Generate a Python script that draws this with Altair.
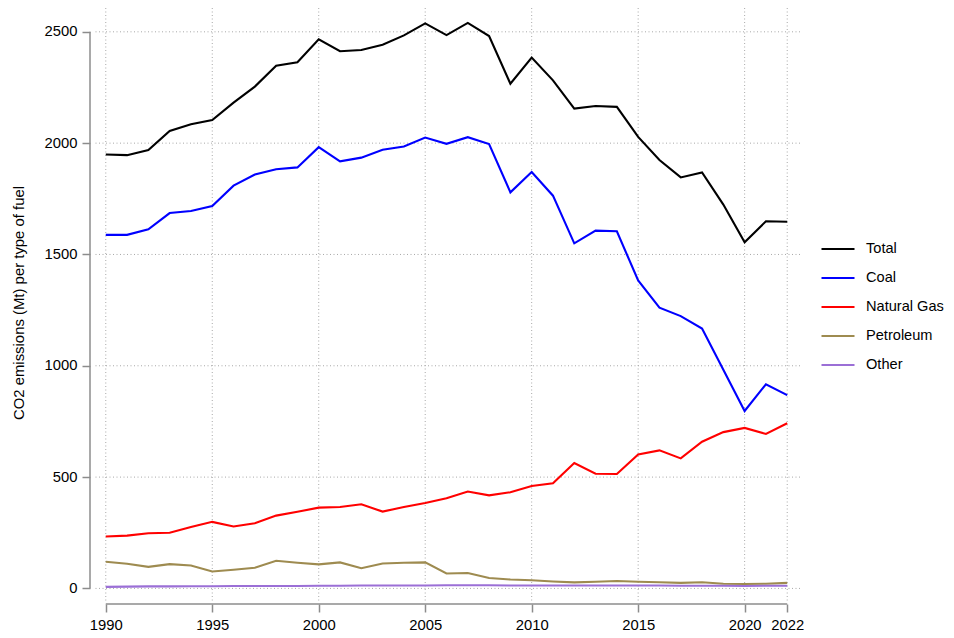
import altair as alt
import pandas as pd

years = list(range(1990, 2023))
total = [1949, 1946, 1969, 2055, 2085, 2104, 2182, 2254, 2348, 2363,
         2466, 2413, 2418, 2442, 2484, 2538, 2485, 2540, 2481, 2267,
         2384, 2282, 2155, 2167, 2163, 2028, 1924, 1846, 1868, 1724,
         1555, 1649, 1647]
coal = [1588, 1588, 1613, 1686, 1695, 1718, 1809, 1859, 1883, 1891,
        1982, 1918, 1935, 1970, 1985, 2025, 1997, 2027, 1996, 1779,
        1870, 1764, 1550, 1607, 1604, 1383, 1261, 1223, 1167, 982,
        797, 917, 868]
gas = [233, 237, 248, 250, 276, 299, 278, 293, 327, 344,
       363, 366, 378, 345, 366, 384, 405, 435, 418, 432,
       460, 472, 563, 515, 514, 602, 620, 584, 659, 702,
       721, 694, 742]
petroleum = [120, 111, 97, 109, 103, 76, 84, 93, 124, 115,
             108, 117, 91, 112, 115, 117, 67, 69, 47, 40,
             37, 31, 27, 30, 33, 30, 28, 25, 28, 21,
             20, 21, 25]
other = [7, 8, 9, 9, 10, 10, 11, 11, 11, 11,
         12, 12, 13, 13, 13, 13, 14, 14, 14, 13,
         13, 13, 13, 13, 13, 13, 13, 12, 12, 12,
         11, 12, 12]

series_names = ["Total", "Coal", "Natural Gas", "Petroleum", "Other"]
series_colors = ["#000000", "#0000FF", "#FF0000", "#9E8B50", "#9B6FD6"]
x_ticks = [1990, 1995, 2000, 2005, 2010, 2015, 2020, 2022]
y_ticks = [0, 500, 1000, 1500, 2000, 2500]
y_title = "CO2 emissions (Mt) per type of fuel"

rows = []
for name, vals in zip(series_names, [total, coal, gas, petroleum, other]):
    for yr, v in zip(years, vals):
        rows.append({"year": yr, "fuel": name, "value": v})
df = pd.DataFrame(rows)

W, H = 707, 594
FONT = "Liberation Sans"
AXIS_COLOR = "#8c8c8c"
GRID_COLOR = "#a8a8a8"

xscale = alt.Scale(domain=[1989.4, 2022.6], nice=False, zero=False)
yscale = alt.Scale(domain=[-61, 2607], nice=False, zero=False)

x_axis = alt.Axis(values=x_ticks, format="d", grid=False, domain=False,
                  ticks=True, tickSize=8, tickColor=AXIS_COLOR, tickWidth=1.5,
                  offset=2, labelFontSize=14.8, labelFont=FONT, labelColor="black",
                  labelPadding=5, labelFlush=False, labelOverlap=False, title=None)
y_axis = alt.Axis(values=y_ticks, format="d", grid=False, domain=False,
                  ticks=True, tickSize=8, tickColor=AXIS_COLOR, tickWidth=1.5,
                  offset=3, labelFontSize=14.8, labelFont=FONT, labelColor="black",
                  labelPadding=5, labelFlush=False, labelOverlap=False,
                  title=y_title, titleFont=FONT, titleFontSize=14.9,
                  titleFontWeight="normal", titleColor="black",
                  titleX=-71, titleY=294.5, titleAngle=270,
                  titleAlign="center", titleBaseline="middle")

vgrid = alt.Chart(pd.DataFrame({"year": x_ticks})).mark_rule(
    color=GRID_COLOR, strokeDash=[1, 2.5], strokeWidth=1
).encode(x=alt.X("year:Q", scale=xscale, axis=x_axis))

hgrid = alt.Chart(pd.DataFrame({"value": y_ticks})).mark_rule(
    color=GRID_COLOR, strokeDash=[1, 2.5], strokeWidth=1
).encode(y=alt.Y("value:Q", scale=yscale, axis=y_axis))

xdom = alt.Chart(pd.DataFrame({"a": [x_ticks[0]], "b": [x_ticks[-1]]})).mark_rule(
    color=AXIS_COLOR, strokeWidth=1.5
).encode(x=alt.X("a:Q", scale=xscale, axis=x_axis), x2="b:Q", y=alt.value(H + 2))

ydom = alt.Chart(pd.DataFrame({"a": [y_ticks[0]], "b": [y_ticks[-1]]})).mark_rule(
    color=AXIS_COLOR, strokeWidth=1.5
).encode(y=alt.Y("a:Q", scale=yscale, axis=y_axis), y2="b:Q", x=alt.value(-3))

lines = alt.Chart(df).mark_line(strokeWidth=2.1).encode(
    x=alt.X("year:Q", scale=xscale, axis=x_axis),
    y=alt.Y("value:Q", scale=yscale, axis=y_axis),
    color=alt.Color("fuel:N",
                    scale=alt.Scale(domain=series_names, range=series_colors),
                    sort=series_names,
                    legend=alt.Legend(title=None, orient="none", legendX=734, legendY=230,
                                      symbolType="M-1.65,0H1.65", symbolSize=400,
                                      symbolStrokeWidth=2, labelFontSize=14.6,
                                      labelFont=FONT, labelColor="black",
                                      labelOffset=17, rowPadding=11, padding=0)),
)

chart = alt.layer(vgrid, hgrid, xdom, ydom, lines).properties(
    width=W, height=H,
    autosize=alt.AutoSizeParams(type="none"),
    padding={"left": 85, "top": 0, "right": 146, "bottom": 30},
).configure_view(stroke=None)

chart.save("out.html", embed_options={"renderer": "svg", "actions": False})
